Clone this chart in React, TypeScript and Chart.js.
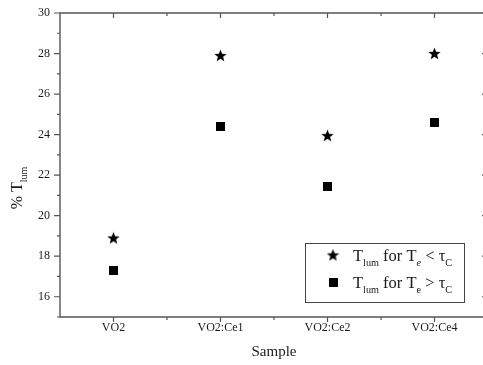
import React, { useEffect, useRef } from "react";
import { Chart, registerables } from "chart.js";

Chart.register(...registerables);

// Samples on the x axis
const categories = ["VO2", "VO2:Ce1", "VO2:Ce2", "VO2:Ce4"];
// Luminous transmittance (%) below and above the transition
const belowTc = [18.9, 27.9, 23.95, 28.0];
const aboveTc = [17.3, 24.4, 21.45, 24.6];
// Labelled y ticks
const yTicks = [16, 18, 20, 22, 24, 26, 28, 30];

const SERIF = '"Liberation Serif", "Times New Roman", serif';
const INK = "#1a1a1a";
const AXIS = "#555";

function makeStar(size: number): HTMLCanvasElement {
  const c = document.createElement("canvas");
  c.width = size;
  c.height = size;
  const ctx = c.getContext("2d")!;
  const cx = size / 2;
  const cy = size / 2 + size * 0.04;
  const R = size / 2;
  const r = R * 0.42;
  ctx.beginPath();
  for (let i = 0; i < 10; i++) {
    const rad = i % 2 === 0 ? R : r;
    const a = -Math.PI / 2 + (i * Math.PI) / 5;
    const px = cx + rad * Math.cos(a);
    const py = cy + rad * Math.sin(a);
    if (i === 0) ctx.moveTo(px, py);
    else ctx.lineTo(px, py);
  }
  ctx.closePath();
  ctx.fillStyle = "#000";
  ctx.fill();
  return c;
}

function makeSquare(size: number): HTMLCanvasElement {
  const c = document.createElement("canvas");
  c.width = size;
  c.height = size;
  const ctx = c.getContext("2d")!;
  ctx.fillStyle = "#000";
  ctx.fillRect(0, 0, size, size);
  return c;
}

type Run = { t: string; sub?: boolean; italic?: boolean };

function runsWidth(ctx: CanvasRenderingContext2D, runs: Run[], size: number) {
  let w = 0;
  for (const r of runs) {
    const fs = r.sub ? size * 0.62 : size;
    ctx.font = `${r.italic ? "italic " : ""}${fs}px ${SERIF}`;
    w += ctx.measureText(r.t).width;
  }
  return w;
}

function drawRuns(ctx: CanvasRenderingContext2D, runs: Run[], x: number, y: number, size: number) {
  let cx = x;
  ctx.textBaseline = "alphabetic";
  ctx.textAlign = "left";
  for (const r of runs) {
    const fs = r.sub ? size * 0.62 : size;
    ctx.font = `${r.italic ? "italic " : ""}${fs}px ${SERIF}`;
    const dy = r.sub ? size * 0.3 : 0;
    ctx.fillText(r.t, cx, y + dy);
    cx += ctx.measureText(r.t).width;
  }
  return cx - x;
}

export default function App() {
  const ref = useRef<HTMLCanvasElement>(null);

  useEffect(() => {
    const canvas = ref.current!;
    const star = makeStar(13);
    const square = makeSquare(9);

    const framePlugin = {
      id: "frame",
      afterDraw(chart: any) {
        const { ctx, chartArea: a, scales } = chart;
        const xs = scales.x;
        const ys = scales.y;
        ctx.save();
        ctx.strokeStyle = AXIS;
        ctx.lineWidth = 1.4;
        ctx.beginPath();
        ctx.rect(a.left, a.top, a.right - a.left, a.bottom - a.top);
        ctx.stroke();

        ctx.lineWidth = 1.2;
        ctx.beginPath();
        // x ticks: majors on categories, minors halfway between
        for (let v = -0.5; v <= 3.5; v += 0.5) {
          const major = Number.isInteger(v);
          const px = xs.getPixelForValue(v);
          if (px <= a.left + 1 || px >= a.right - 1) continue;
          const len = major ? 5 : 3;
          ctx.moveTo(px, a.bottom);
          ctx.lineTo(px, a.bottom + len);
          ctx.moveTo(px, a.top);
          ctx.lineTo(px, a.top + len);
        }
        // y ticks: majors every 2, minors every 1
        for (let v = 15; v <= 30; v += 1) {
          const major = v % 2 === 0;
          const py = ys.getPixelForValue(v);
          const len = major ? 6 : 3;
          ctx.moveTo(a.left, py);
          ctx.lineTo(a.left - len, py);
          ctx.moveTo(a.right, py);
          ctx.lineTo(a.right - len, py);
        }
        ctx.stroke();

        // axis titles
        ctx.fillStyle = INK;
        ctx.font = `15px ${SERIF}`;
        ctx.textAlign = "center";
        ctx.textBaseline = "middle";
        ctx.fillText("Sample", (a.left + a.right) / 2, 352);

        ctx.save();
        ctx.translate(17, 188);
        ctx.rotate(-Math.PI / 2);
        const title: Run[] = [{ t: "% T" }, { t: "lum", sub: true }];
        const w = runsWidth(ctx, title, 16);
        drawRuns(ctx, title, -w / 2, 5, 16);
        ctx.restore();

        // legend box
        const lx = 305, ly = 243, lw = 159, lh = 59;
        ctx.fillStyle = "#fff";
        ctx.fillRect(lx, ly, lw, lh);
        ctx.strokeStyle = "#444";
        ctx.lineWidth = 1;
        ctx.strokeRect(lx + 0.5, ly + 0.5, lw, lh);
        ctx.drawImage(star, 333 - star.width / 2, 255 - star.height / 2);
        ctx.drawImage(square, 333 - square.width / 2, 282 - square.height / 2);
        ctx.fillStyle = INK;
        drawRuns(
          ctx,
          [
            { t: "T" },
            { t: "lum", sub: true },
            { t: " for T" },
            { t: "e", sub: true, italic: true },
            { t: " < τ" },
            { t: "C", sub: true },
          ],
          353,
          261,
          16.5
        );
        drawRuns(
          ctx,
          [
            { t: "T" },
            { t: "lum", sub: true },
            { t: " for T" },
            { t: "e", sub: true },
            { t: " > τ" },
            { t: "C", sub: true },
          ],
          353,
          288,
          16.5
        );
        ctx.restore();
      },
    };

    const chart = new Chart(canvas, {
      type: "scatter",
      data: {
        datasets: [
          {
            label: "below",
            data: belowTc.map((v, i) => ({ x: i, y: v })),
            pointStyle: star as any,
            backgroundColor: "#000",
          },
          {
            label: "above",
            data: aboveTc.map((v, i) => ({ x: i, y: v })),
            pointStyle: square as any,
            backgroundColor: "#000",
          },
        ],
      },
      options: {
        responsive: false,
        animation: false,
        layout: { padding: { left: 0, top: 13, right: 12, bottom: 0 } },
        plugins: { legend: { display: false }, tooltip: { enabled: false } },
        scales: {
          x: {
            type: "linear",
            min: -0.5,
            max: 3.5,
            afterBuildTicks: (s: any) => {
              s.ticks = categories.map((_, i) => ({ value: i }));
            },
            afterFit: (s: any) => {
              s.height = 48;
              s.paddingLeft = 0;
              s.paddingRight = 0;
            },
            grid: { display: false, drawTicks: false },
            border: { display: false },
            ticks: {
              padding: 4,
              color: INK,
              font: { family: SERIF, size: 12 },
              maxRotation: 0,
              callback: (v: any) => categories[v] ?? "",
            },
          },
          y: {
            min: 15,
            max: 30,
            afterBuildTicks: (s: any) => {
              s.ticks = yTicks.map((v) => ({ value: v }));
            },
            afterFit: (s: any) => {
              s.width = 60;
              s.paddingTop = 0;
              s.paddingBottom = 0;
            },
            grid: { display: false, drawTicks: false },
            border: { display: false },
            ticks: {
              padding: 10,
              color: INK,
              font: { family: SERIF, size: 12 },
            },
          },
        },
      },
      plugins: [framePlugin],
    });
    return () => chart.destroy();
  }, []);

  return (
    <div style={{ position: "absolute", left: 0, top: 0, width: 483, height: 365, overflow: "hidden", background: "#fff" }}>
      <canvas ref={ref} width={500} height={365} style={{ display: "block" }} />
    </div>
  );
}
